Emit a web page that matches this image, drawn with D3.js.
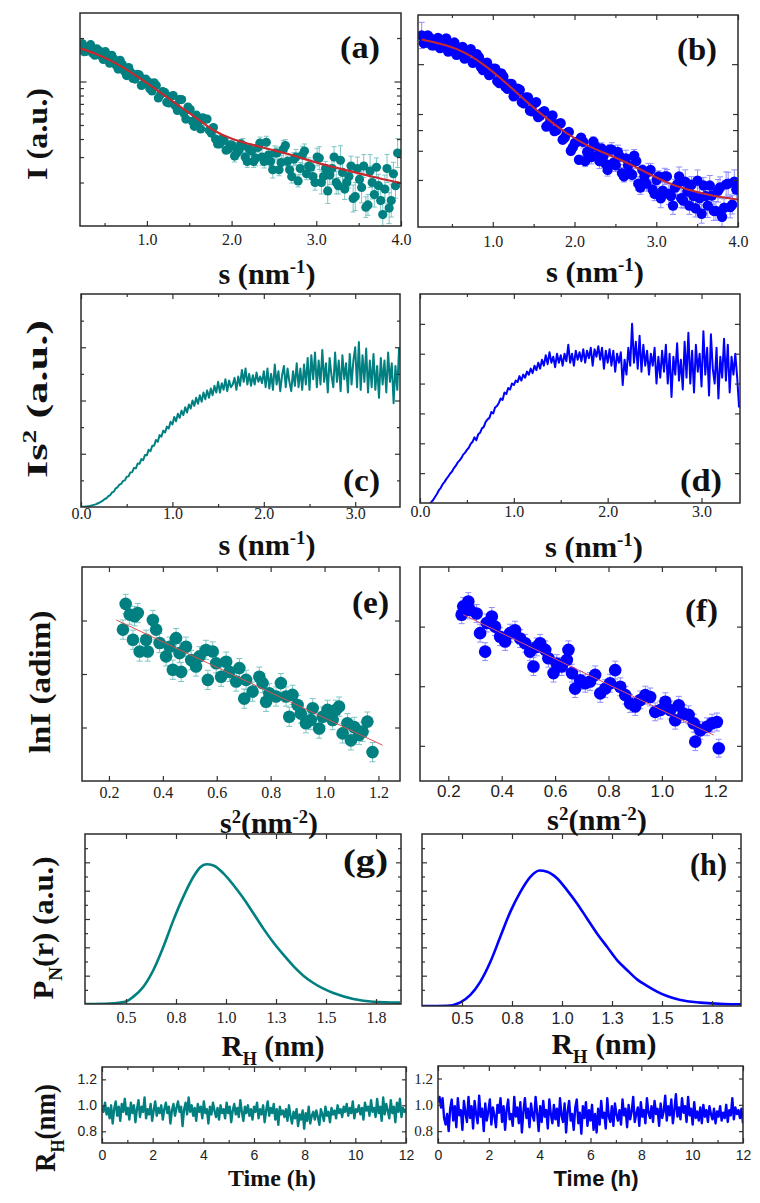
<!DOCTYPE html>
<html>
<head>
<meta charset="utf-8">
<script src="https://cdn.jsdelivr.net/npm/d3@7"></script>
<style>
  body { margin: 0; background: #fff; }
  svg { display: block; }
</style>
</head>
<body>
<svg width="760" height="1203"></svg>
<script>
// ---------- data ----------
// (a) I(s), teal sample, log axis (two interleaved runs of points)
const sA = [0.21,0.26,0.31,0.36,0.41,0.46,0.51,0.56,0.61,0.66,0.71,0.76,0.81,0.86,0.91,0.96,1.01,1.06,1.11,1.16,1.21,1.26,1.31,1.36,1.41,1.46,1.51,1.56,1.61,1.66,1.71,1.76,1.81,1.86,1.91,1.96,2.01,2.06,2.11,2.16,2.21,2.26,2.31,2.36,2.41,2.46,2.51,2.56,2.61,2.66,2.71,2.76,2.81,2.86,2.91,2.96,3.01,3.06,3.11,3.16,3.21,3.26,3.31,3.36,3.41,3.46,3.51,3.56,3.61,3.66,3.71,3.76,3.81,3.86,3.91,3.96];
const IA = [17.5,16.1,17.4,15.7,16.8,15.1,16.1,13.4,14.3,12.2,13.1,11.0,11.6,10.4,11.1,9.6,10.0,8.6,9.4,8.1,8.4,7.1,8.0,6.3,7.5,5.5,6.4,4.9,5.3,5.6,5.5,4.4,4.0,3.7,3.9,3.4,3.6,3.2,3.7,3.0,3.4,2.8,3.5,3.0,3.8,2.8,3.2,2.45,3.4,2.8,2.2,3.0,2.5,3.3,2.6,2.2,3.0,2.0,2.5,2.25,3.0,1.9,2.35,2.0,2.6,1.6,2.1,2.6,1.4,2.0,2.55,1.5,1.8,1.33,2.3,3.2];
const errA = [0.03,0.03,0.03,0.03,0.03,0.03,0.03,0.03,0.03,0.03,0.03,0.03,0.03,0.03,0.03,0.03,0.03,0.03,0.03,0.03,
  0.05,0.05,0.05,0.05,0.05,0.05,0.05,0.05,0.05,0.05,0.05,0.05,0.05,0.05,0.05,0.05,
  0.08,0.1,0.07,0.12,0.09,0.1,0.08,0.14,0.1,0.09,0.12,0.1,0.15,0.09,0.11,0.13,0.1,0.12,0.14,0.1,
  0.15,0.2,0.12,0.16,0.18,0.14,0.22,0.15,0.17,0.25,0.14,0.2,0.18,0.3,0.16,0.22,0.25,0.28,0.2,0.26];
const sA2 = [0.235,0.285,0.335,0.385,0.435,0.485,0.535,0.585,0.635,0.685,0.735,0.785,0.835,0.885,0.935,0.985,1.035,1.085,1.135,1.185,1.235,1.285,1.335,1.385,1.435,1.485,1.535,1.585,1.635,1.685,1.735,1.785,1.835,1.885,1.935,1.985,2.035,2.085,2.135,2.185,2.235,2.285,2.335,2.385,2.435,2.485,2.535,2.585,2.635,2.685,2.735,2.785,2.835,2.885,2.935,2.985,3.035,3.085,3.135,3.185,3.235,3.285,3.335,3.385,3.435,3.485,3.535,3.585,3.635,3.685,3.735,3.785,3.835,3.885,3.935];
const IA2 = [18.3,16.2,18.0,15.2,16.3,14.2,14.8,15.2,13.0,14.0,11.8,12.5,10.5,11.2,9.4,10.4,8.9,9.8,7.7,8.5,7.2,7.9,6.8,7.5,6.05,6.65,5.3,5.85,4.7,5.5,4.6,4.8,3.7,4.0,3.35,3.65,3.05,3.35,3.6,2.8,3.3,2.95,3.75,2.8,3.1,2.45,3.2,2.75,3.6,2.45,2.9,2.05,3.1,2.3,2.55,2.0,2.95,2.2,1.75,2.5,2.0,2.85,1.8,2.2,1.55,2.5,1.85,1.35,2.4,1.65,1.9,1.2,2.5,1.5,1.9];
const errA2 = [0.03,0.03,0.03,0.03,0.03,0.03,0.03,0.03,0.03,0.03,0.03,0.03,0.03,0.03,0.03,0.03,0.03,0.03,0.03,0.03,
  0.05,0.05,0.05,0.05,0.05,0.05,0.05,0.05,0.05,0.05,0.05,0.05,0.05,0.05,0.05,0.05,
  0.1,0.08,0.12,0.1,0.09,0.13,0.1,0.11,0.09,0.14,0.1,0.12,0.1,0.13,0.11,0.1,0.15,0.1,0.12,0.13,
  0.2,0.16,0.22,0.18,0.2,0.26,0.18,0.2,0.24,0.2,0.28,0.18,0.3,0.22,0.2,0.32,0.25,0.3,0.22];
const fitSA = [0.21,0.45,0.68,0.92,1.15,1.39,1.62,1.78,2.01,2.25,2.48,2.72,2.95,3.19,3.42,3.66,4.0];
const fitIA = [17.0,15.2,13.0,10.5,8.49,6.70,5.42,4.55,3.96,3.64,3.36,3.10,2.79,2.57,2.38,2.19,1.98];

// (b) I(s), blue sample
const sB = [0.13,0.18,0.23,0.28,0.33,0.38,0.43,0.48,0.53,0.58,0.63,0.68,0.73,0.78,0.83,0.88,0.93,0.98,1.03,1.08,1.13,1.18,1.23,1.28,1.33,1.38,1.43,1.48,1.53,1.58,1.63,1.68,1.73,1.78,1.83,1.88,1.93,1.98,2.03,2.08,2.13,2.18,2.23,2.28,2.33,2.38,2.43,2.48,2.53,2.58,2.63,2.68,2.73,2.78,2.83,2.88,2.93,2.98,3.03,3.08,3.13,3.18,3.23,3.28,3.33,3.38,3.43,3.48,3.53,3.58,3.63,3.68,3.73,3.78,3.83,3.88,3.93,3.98];
const IB = [14.9,13.5,14.4,13.0,14.4,13.1,14.3,12.4,13.5,11.5,12.7,11.4,12.3,10.3,11.0,9.2,10.2,8.8,9.4,7.7,8.4,7.1,7.6,6.6,7.0,5.8,6.3,5.2,5.9,4.9,5.2,4.3,4.9,4.0,4.4,3.6,3.9,3.15,3.4,3.6,2.6,3.0,3.4,2.8,3.1,2.5,3.05,2.55,2.95,2.2,2.7,2.2,2.8,1.9,2.3,1.9,2.3,1.65,2.1,1.72,2.1,1.6,1.8,2.1,1.5,1.7,1.87,1.35,1.55,1.85,1.4,1.61,1.3,1.8,1.36,1.9,1.42,1.75];
const errB = [0.2,0.03,0.03,0.03,0.03,0.03,0.03,0.03,0.03,0.03,0.03,0.03,0.03,0.03,0.03,0.03,0.03,0.03,0.03,0.03,
  0.05,0.05,0.05,0.05,0.05,0.05,0.05,0.05,0.05,0.05,0.05,0.05,0.05,0.05,0.05,0.05,0.05,0.05,0.05,0.05,
  0.08,0.1,0.07,0.09,0.08,0.11,0.07,0.09,0.1,0.08,0.12,0.08,0.09,0.1,0.07,0.11,0.09,0.1,0.08,
  0.13,0.1,0.15,0.12,0.14,0.11,0.16,0.12,0.13,0.15,0.12,0.18,0.13,0.14,0.16,0.13,0.17,0.14,0.15];
const sB2 = [0.155,0.205,0.255,0.305,0.355,0.405,0.455,0.505,0.555,0.605,0.655,0.705,0.755,0.805,0.855,0.905,0.955,1.005,1.055,1.105,1.155,1.205,1.255,1.305,1.355,1.405,1.455,1.505,1.555,1.605,1.655,1.705,1.755,1.805,1.855,1.905,1.955,2.005,2.055,2.105,2.155,2.205,2.255,2.305,2.355,2.405,2.455,2.505,2.555,2.605,2.655,2.705,2.755,2.805,2.855,2.905,2.955,3.005,3.055,3.105,3.155,3.205,3.255,3.305,3.355,3.405,3.455,3.505,3.555,3.605,3.655,3.705,3.755,3.805,3.855,3.905,3.955];
const IB2 = [13.4,14.9,13.0,13.9,12.5,13.8,11.9,12.9,11.4,12.5,10.8,12.0,10.2,11.5,9.6,10.15,8.6,9.4,7.9,8.8,7.3,7.6,6.4,7.1,5.9,6.3,5.25,5.8,4.8,5.1,4.2,4.6,3.95,4.35,3.5,3.82,3.0,3.35,2.65,3.4,2.95,2.75,3.2,2.6,2.8,2.3,3.05,2.45,2.77,2.1,2.45,2.15,2.6,1.8,2.1,2.25,1.75,2.0,1.55,2.1,1.65,1.4,1.88,1.55,1.95,1.4,1.6,1.98,1.25,1.6,1.85,1.3,1.72,1.2,1.88,1.37,1.95];
const errB2 = [0.03,0.03,0.03,0.03,0.03,0.03,0.03,0.03,0.03,0.03,0.03,0.03,0.03,0.03,0.03,0.03,0.03,0.03,0.03,
  0.05,0.05,0.05,0.05,0.05,0.05,0.05,0.05,0.05,0.05,0.05,0.05,0.05,0.05,0.05,0.05,0.05,0.05,0.05,0.05,
  0.09,0.08,0.1,0.09,0.11,0.08,0.09,0.1,0.09,0.12,0.08,0.1,0.09,0.11,0.1,0.09,0.12,0.1,0.09,
  0.14,0.12,0.16,0.13,0.15,0.14,0.18,0.13,0.15,0.16,0.14,0.2,0.15,0.14,0.17,0.15,0.19,0.16,0.18];
const fitSB = [0.131,0.437,0.682,0.927,1.171,1.416,1.661,1.906,2.151,2.396,2.641,2.886,3.131,3.375,3.62,4.0];
const fitIB = [14.07,13.1,11.7,9.67,7.65,5.91,4.69,3.80,3.22,2.87,2.55,2.21,1.92,1.75,1.63,1.52];

// (c) Kratky teal, s sampled every 0.02 from 0
const cS0 = 0, cStep = 0.02;
const kratkyC = [0,0.01,0.01,0.02,0.03,0.04,0.06,0.08,0.1,0.13,0.16,0.2,0.24,0.3,0.33,0.41,0.45,0.55,0.58,0.7,0.74,0.84,0.87,0.98,1.0,
  1.14,1.15,1.3,1.31,1.47,1.45,1.63,1.62,1.8,1.76,1.95,1.94,2.15,2.1,2.3,2.3,2.52,2.45,2.7,2.64,2.87,2.8,3.02,2.95,3.2,
  3.1,3.38,3.22,3.5,3.35,3.62,3.45,3.75,3.55,3.85,3.7,4.0,3.8,4.1,3.88,4.2,3.95,4.3,4.05,4.38,4.1,4.45,4.2,4.55,4.3,
  4.7,4.3,4.65,4.4,4.8,4.35,4.75,4.5,4.6,4.85,4.4,4.9,4.55,5.15,4.7,5.2,4.6,5.0,4.55,4.95,4.6,5.05,4.7,4.9,4.65,
  5.1,4.5,5.2,4.45,5.0,4.4,5.35,4.6,5.1,4.35,4.95,5.3,4.5,5.2,4.7,4.35,5.1,4.55,5.4,4.5,5.2,4.4,5.35,4.6,5.6,
  4.4,5.7,4.8,5.8,4.5,5.5,4.6,5.9,4.7,5.4,4.3,5.6,4.95,4.5,5.8,4.7,5.5,4.35,5.7,4.8,5.4,4.3,5.75,4.6,5.5,
  6.0,4.5,6.2,4.4,5.7,4.7,5.95,4.3,5.5,4.5,5.75,4.4,5.3,4.1,5.6,4.6,5.5,4.3,5.8,4.7,5.4,3.9,5.3,4.4,6.0];

// (d) Kratky blue, s sampled every 0.02 from 0.06
const dS0 = 0.06, dStep = 0.02;
const kratkyD = [-0.15,-0.12,-0.05,0.03,0.1,0.2,0.3,0.42,0.5,0.62,0.7,0.8,0.88,0.98,1.05,1.16,1.24,1.35,1.42,1.5,1.62,1.68,1.78,1.85,1.98,
  2.05,2.2,2.1,2.3,2.35,2.5,2.55,2.72,2.8,2.85,3.05,3.0,3.2,3.25,3.35,3.5,3.45,3.7,3.65,3.85,3.8,4.0,3.95,4.1,4.05,
  4.25,4.1,4.3,4.2,4.4,4.3,4.5,4.35,4.6,4.45,4.7,4.5,4.8,4.6,4.95,4.65,5.05,4.7,4.9,4.55,5.0,4.7,4.95,4.6,5.0,
  4.75,5.3,4.7,5.0,4.6,5.1,4.8,5.05,4.75,5.15,4.7,5.1,4.85,5.2,4.6,5.15,4.9,5.25,4.8,5.2,4.5,5.1,4.7,5.15,4.6,
  5.1,4.4,5.0,4.7,5.05,3.95,4.8,4.3,5.2,4.6,6.0,4.7,5.4,4.5,5.6,4.4,5.3,4.6,5.1,4.3,5.0,4.6,5.2,4.0,4.9,
  4.2,5.1,4.4,5.3,4.0,5.0,3.55,4.9,4.3,5.35,4.1,4.8,3.8,5.4,4.2,5.7,4.0,5.1,3.7,5.3,4.4,5.0,3.9,5.75,4.3,
  5.2,3.6,5.65,4.5,4.0,5.2,3.5,4.9,4.2,5.5,4.1,5.3,3.7,4.9,4.3,5.0,4.2,3.2];

// (e) Guinier teal
const s2E = [0.262,0.252,0.277,0.295,0.307,0.289,0.314,0.338,0.344,0.363,0.375,0.388,0.412,0.425,0.437,0.449,0.468,0.462,0.486,0.505,0.523,0.536,0.560,0.567,0.585,0.598,0.616,0.635,0.647,0.672,0.684,0.702,0.709,0.733,0.758,0.770,0.783,0.795,0.820,0.838,0.857,0.869,0.881,0.900,0.912,0.931,0.949,0.956,0.980,0.993,1.011,1.030,1.042,1.054,1.067,1.085,1.098,1.110,1.128,1.141,1.159,1.178];
const lnIE = [3.31,2.83,3.11,3.08,3.14,2.64,2.42,2.64,2.42,3.01,2.83,2.58,2.33,2.51,2.08,2.67,2.04,2.39,2.51,2.26,2.14,2.33,2.45,1.89,2.42,2.20,1.95,2.23,2.04,1.86,2.11,1.54,1.89,1.67,1.95,1.83,1.48,1.64,1.58,1.83,1.58,1.20,1.61,1.42,1.26,1.08,1.14,1.36,0.98,1.20,1.33,1.14,1.33,1.39,0.89,1.08,0.76,1.01,0.86,0.92,1.11,0.54];
const errE = 0.18;
const fitS2E = [0.227, 1.215], fitLnE = [3.01, 0.67];

// (f) Guinier blue
const s2F = [0.256,0.275,0.250,0.281,0.306,0.319,0.338,0.344,0.363,0.375,0.394,0.413,0.431,0.450,0.469,0.488,0.506,0.519,0.531,0.544,0.563,0.575,0.594,0.606,0.625,0.644,0.650,0.663,0.675,0.694,0.713,0.731,0.750,0.769,0.788,0.806,0.825,0.844,0.863,0.881,0.900,0.919,0.938,0.956,0.975,0.994,1.013,1.031,1.050,1.063,1.081,1.100,1.119,1.125,1.144,1.169,1.188,1.206,1.213];
const lnIF = [3.34,3.42,3.20,3.28,3.22,2.89,2.58,3.06,3.17,3.00,2.83,2.75,2.89,2.94,2.80,2.72,2.58,2.33,2.66,2.72,2.61,2.47,2.22,2.38,2.33,2.44,2.61,2.22,1.96,2.10,2.05,2.08,2.19,1.88,1.96,2.05,2.27,1.99,1.85,1.71,1.66,1.77,1.85,1.82,1.57,1.60,1.74,1.60,1.43,1.68,1.54,1.52,1.38,1.07,1.26,1.32,1.38,1.40,0.96];
const errF = 0.15;
const fitS2F = [0.256, 1.194], fitLnF = [3.20, 1.18];

// (g), (h) size distributions
const rG = [0.295,0.42,0.495,0.537,0.587,0.637,0.687,0.737,0.787,0.837,0.870,0.903,0.937,0.987,1.037,1.087,1.137,1.187,1.237,1.287,1.337,1.387,1.437,1.487,1.537,1.637,1.737,1.87];
const pG = [0,0.02,0.08,0.26,0.61,1.20,2.02,2.96,3.79,4.49,4.82,4.93,4.89,4.61,4.20,3.73,3.20,2.66,2.17,1.74,1.34,1.0,0.74,0.54,0.39,0.18,0.08,0.05];
const rH = [0.30,0.425,0.492,0.542,0.592,0.642,0.692,0.742,0.792,0.842,0.888,0.925,0.975,1.025,1.075,1.125,1.175,1.225,1.275,1.325,1.375,1.425,1.475,1.525,1.592,1.692,1.808,1.895];
const pH = [-0.07,-0.06,0.06,0.32,0.79,1.49,2.38,3.26,3.96,4.49,4.71,4.67,4.44,4.02,3.55,3.02,2.49,2.02,1.55,1.20,0.87,0.64,0.44,0.28,0.14,0.05,0,-0.01];
const rLabels = ["0.5","0.8","1.0","1.3","1.5","1.8"];

// bottom: R_H over time, sampled every 0.06 h
const tStep = 0.06;
const rhTeal = [0.99,0.95,1.02,0.93,0.98,0.90,1.00,0.86,0.97,1.03,0.92,0.99,0.88,1.01,0.95,1.05,0.93,0.98,0.89,1.02,
  0.94,1.00,0.87,0.97,1.04,0.91,0.99,0.95,1.06,0.90,0.97,0.93,1.01,0.88,0.96,1.03,0.92,0.98,0.94,1.00,
  0.89,0.97,1.02,0.94,0.99,0.86,0.96,1.01,0.92,0.98,1.03,0.95,0.99,0.84,0.97,1.02,0.93,1.06,0.95,1.00,
  0.92,0.98,0.88,1.01,0.95,0.99,0.90,1.03,0.94,0.97,0.86,0.99,0.93,1.02,0.96,0.91,0.98,0.89,1.00,0.94,
  0.97,0.90,1.02,0.94,0.99,0.87,0.96,1.01,0.93,0.98,0.91,1.04,0.95,0.88,0.99,0.94,1.00,0.92,0.97,0.89,
  0.99,0.95,1.02,0.90,0.97,0.93,1.00,0.87,0.96,1.03,0.92,0.98,0.94,1.01,0.89,0.97,0.85,0.99,0.93,0.96,
  0.91,0.97,0.88,1.00,0.92,0.86,0.95,0.90,0.97,0.84,0.93,0.89,0.96,0.82,0.94,0.88,0.99,0.86,0.92,0.95,
  0.89,0.96,0.91,0.85,0.97,0.93,0.88,0.99,0.92,0.95,0.87,0.98,0.93,0.96,0.90,1.00,0.94,0.97,0.91,0.99,
  0.95,1.01,0.92,0.98,0.94,1.03,0.90,0.97,0.95,1.00,0.93,0.98,0.89,1.02,0.96,0.99,0.92,1.04,0.95,0.98,
  0.91,1.05,0.94,0.99,0.88,1.06,0.93,1.01,0.96,0.90,1.04,0.94,0.99,0.87,1.02,0.95,1.05,0.91,0.98,0.95,0.97];
const rhBlue = [1.02,1.06,0.98,1.05,0.90,0.85,0.93,0.80,0.97,1.04,0.88,0.99,0.83,1.05,0.92,0.96,0.81,1.03,0.94,0.87,
  1.06,0.90,0.99,0.82,1.03,0.93,0.86,1.07,0.91,0.97,0.80,1.01,0.88,0.95,1.04,0.85,0.98,0.92,0.83,1.00,
  0.94,1.05,0.87,0.99,0.81,0.96,1.04,0.89,0.93,0.84,1.06,0.91,0.98,0.86,1.02,0.79,0.95,1.05,0.90,0.97,
  0.83,1.01,0.92,0.88,1.06,0.94,0.80,0.99,0.87,1.03,0.91,0.96,0.82,1.04,0.93,0.86,1.00,0.89,0.97,0.84,
  1.05,0.92,0.87,1.01,0.79,0.95,1.03,0.88,0.93,0.81,0.98,1.04,0.86,0.94,0.78,0.99,0.90,1.02,0.84,0.96,
  0.88,1.00,0.81,0.93,0.79,0.97,0.85,1.03,0.90,0.94,0.82,1.05,0.91,0.87,0.99,0.84,1.01,0.93,0.88,0.96,
  0.85,1.04,0.92,0.97,0.83,1.00,0.89,0.95,1.06,0.87,0.93,0.98,0.84,1.02,0.91,0.96,0.86,1.05,0.94,0.90,
  0.99,0.87,1.03,0.93,0.97,0.84,1.01,0.90,0.95,1.07,0.88,0.99,0.92,1.04,0.86,0.96,1.08,0.91,0.98,0.89,
  1.05,0.94,0.99,0.87,1.06,0.92,0.97,0.85,1.02,0.90,0.95,0.88,0.98,0.86,1.00,0.91,0.96,0.87,0.99,0.93,
  0.89,0.97,0.86,0.95,0.91,0.99,0.88,0.94,0.90,1.00,0.87,0.96,0.92,1.05,0.89,0.98,0.93,0.96,0.90,0.97,0.86];

// ---------- drawing ----------
const teal = "#008080", blue = "#0000ff", red = "#c62a2f";
const tealErr = "#7fc5c5", blueErr = "#8f8fff";
const serif = "'Liberation Serif','Times New Roman',serif";
const sans = "'Liberation Sans',Arial,sans-serif";
const svg = d3.select("svg");
const defs = svg.append("defs");

// one framed panel with inward ticks on all four sides
function panel(o) {
  const x = d3.scaleLinear().domain(o.xDom).range([o.x0, o.x1]);
  const y = (o.log ? d3.scaleLog() : d3.scaleLinear()).domain(o.yDom).range([o.y1, o.y0]);
  const g = svg.append("g");
  defs.append("clipPath").attr("id", "clip-" + o.id)
    .append("rect").attr("x", o.x0).attr("y", o.y0)
    .attr("width", o.x1 - o.x0).attr("height", o.y1 - o.y0);
  const plot = g.append("g").attr("clip-path", `url(#clip-${o.id})`);

  const axes = g.append("g").attr("color", "#333");
  const L = 5, l = 3;
  const none = () => "";

  const bottom = axes.append("g").attr("transform", `translate(0,${o.y1})`)
    .call(d3.axisBottom(x).tickValues(o.xMajor).tickSize(-L).tickPadding(o.xPad).tickFormat(o.xFmt));
  bottom.selectAll("text").attr("font-family", o.xFont).attr("font-size", o.xSize).attr("fill", "#222");
  if (o.xMinor) axes.append("g").attr("transform", `translate(0,${o.y1})`)
    .call(d3.axisBottom(x).tickValues(o.xMinor).tickSize(-l).tickFormat(none));
  if (o.top !== false) {
    axes.append("g").attr("transform", `translate(0,${o.y0})`)
      .call(d3.axisTop(x).tickValues(o.xMajor).tickSize(-L).tickFormat(none));
    if (o.xMinor) axes.append("g").attr("transform", `translate(0,${o.y0})`)
      .call(d3.axisTop(x).tickValues(o.xMinor).tickSize(-l).tickFormat(none));
  }

  const left = axes.append("g").attr("transform", `translate(${o.x0},0)`)
    .call(d3.axisLeft(y).tickValues(o.yMajor).tickSize(-(o.yTick || L)).tickPadding(o.yPad || 4).tickFormat(o.yFmt || none));
  left.selectAll("text").attr("font-family", o.yFont || serif).attr("font-size", o.ySize || 14).attr("fill", "#222");
  axes.append("g").attr("transform", `translate(${o.x1},0)`)
    .call(d3.axisRight(y).tickValues(o.yMajor).tickSize(-(o.yTick || L)).tickFormat(none));
  if (o.yMinor) {
    axes.append("g").attr("transform", `translate(${o.x0},0)`)
      .call(d3.axisLeft(y).tickValues(o.yMinor).tickSize(-(o.yTickMinor || l)).tickFormat(none));
    axes.append("g").attr("transform", `translate(${o.x1},0)`)
      .call(d3.axisRight(y).tickValues(o.yMinor).tickSize(-(o.yTickMinor || l)).tickFormat(none));
  }
  axes.selectAll(".domain").remove();
  axes.selectAll("line").attr("stroke-width", 1.2);

  g.append("rect").attr("x", o.x0).attr("y", o.y0)
    .attr("width", o.x1 - o.x0).attr("height", o.y1 - o.y0)
    .attr("fill", "none").attr("stroke", "#2b2b2b").attr("stroke-width", 1.5);
  return { g, plot, x, y };
}

// bold title with optional super/subscripts
function title(parts, o) {
  const t = svg.append("text")
    .attr("font-family", o.font || serif).attr("font-weight", "bold")
    .attr("font-size", o.size).attr("text-anchor", o.anchor || "middle")
    .attr("fill", "#111").style("white-space", "pre")
    .attr("transform", `translate(${o.x},${o.y})` + (o.rot ? " rotate(-90)" : ""));
  let shift = 0;
  parts.forEach(p => {
    const target = p.sup ? -(o.supUp || 0.38) * o.size : p.sub ? 0.3 * o.size : 0;
    t.append("tspan").text(p.t)
      .attr("font-size", (p.sup || p.sub) ? o.size * 0.62 : o.size)
      .attr("dy", target - shift);
    shift = target;
  });
  if (o.len) t.attr("textLength", o.len).attr("lengthAdjust", "spacingAndGlyphs");
  return t;
}

function errorBars(p, pts, logErr, ecolor, cap) {
  const lo = d => logErr ? d.y / (1 + d.e) : d.y - d.e;
  const hi = d => logErr ? d.y * (1 + d.e) : d.y + d.e;
  const eb = p.plot.append("g").attr("stroke", ecolor).attr("stroke-width", 1);
  eb.selectAll(".v").data(pts).join("line").attr("class", "v")
    .attr("x1", d => p.x(d.x)).attr("x2", d => p.x(d.x))
    .attr("y1", d => p.y(lo(d))).attr("y2", d => p.y(hi(d)));
  eb.selectAll(".ct").data(pts).join("line").attr("class", "ct")
    .attr("x1", d => p.x(d.x) - cap).attr("x2", d => p.x(d.x) + cap)
    .attr("y1", d => p.y(hi(d))).attr("y2", d => p.y(hi(d)));
  eb.selectAll(".cb").data(pts).join("line").attr("class", "cb")
    .attr("x1", d => p.x(d.x) - cap).attr("x2", d => p.x(d.x) + cap)
    .attr("y1", d => p.y(lo(d))).attr("y2", d => p.y(lo(d)));
}

// several runs of points share one error-bar layer below one dot layer
function scatter(p, runs, logErr, color, ecolor, r, cap) {
  const pts = runs.flatMap(([xs, ys, err]) =>
    xs.map((v, i) => ({ x: v, y: ys[i], e: Array.isArray(err) ? err[i] : err })));
  errorBars(p, pts, logErr, ecolor, cap);
  p.plot.append("g").selectAll("circle").data(pts).join("circle")
    .attr("cx", d => p.x(d.x)).attr("cy", d => p.y(d.y)).attr("r", r)
    .attr("fill", color);
}

function curve(p, xs, ys, color, width, c) {
  const line = d3.line().x(d => p.x(d[0])).y(d => p.y(d[1])).curve(c || d3.curveLinear);
  p.plot.append("path").datum(xs.map((v, i) => [v, ys[i]]))
    .attr("d", line).attr("fill", "none").attr("stroke", color)
    .attr("stroke-width", width).attr("stroke-linejoin", "round");
}

const f1 = d3.format(".1f");

// ----- (a) -----
const pa = panel({ id: "a", x0: 80, x1: 401, y0: 13, y1: 226, top: false,
  xDom: [0.21, 4.0], yDom: [1, 29.8], log: true,
  xMajor: [1, 2, 3, 4], xMinor: [0.5, 1.5, 2.5, 3.5], xFmt: f1, xPad: 8, xFont: serif, xSize: 16,
  yMajor: [10], yMinor: [2, 3, 4, 5, 6, 7, 8, 9, 20], yTick: 6.5, yTickMinor: 4 });
scatter(pa, [[sA, IA, errA], [sA2, IA2, errA2]], true, teal, tealErr, 4.6, 2.5);
curve(pa, fitSA, fitIA, red, 2.2, d3.curveBasis);

// ----- (b) -----
const pb = panel({ id: "b", x0: 418, x1: 738, y0: 15, y1: 227,
  xDom: [0.085, 4.0], yDom: [1.04, 19.8], log: true,
  xMajor: [1, 2, 3, 4], xMinor: [0.5, 1.5, 2.5, 3.5], xFmt: f1, xPad: 9, xFont: serif, xSize: 16,
  yMajor: [10], yMinor: [2, 3, 4, 5], yTick: 6, yTickMinor: 5 });
scatter(pb, [[sB, IB, errB], [sB2, IB2, errB2]], true, blue, blueErr, 5.2, 3);
curve(pb, fitSB, fitIB, red, 2, d3.curveBasis);

// ----- (c) -----
const pc = panel({ id: "c", x0: 81, x1: 400, y0: 294, y1: 507,
  xDom: [0, 3.49], yDom: [0, 8],
  xMajor: [0, 1, 2, 3], xMinor: [0.5, 1.5, 2.5], xFmt: f1, xPad: 1, xFont: serif, xSize: 16,
  yMajor: [2, 4, 6], yMinor: [1, 3, 5, 7] });
curve(pc, kratkyC.map((v, i) => cS0 + i * cStep), kratkyC, teal, 2);

// ----- (d) -----
const pd = panel({ id: "d", x0: 420, x1: 740, y0: 294, y1: 503,
  xDom: [0, 3.41], yDom: [0, 7],
  xMajor: [0, 1, 2, 3], xMinor: [0.5, 1.5, 2.5], xFmt: f1, xPad: 3, xFont: serif, xSize: 16,
  yMajor: [1, 2, 3, 4, 5, 6] });
curve(pd, kratkyD.map((v, i) => dS0 + i * dStep), kratkyD, blue, 2);

// ----- (e) -----
const pe = panel({ id: "e", x0: 82, x1: 400, y0: 567, y1: 781,
  xDom: [0.1, 1.28], yDom: [0, 4],
  xMajor: [0.2, 0.4, 0.6, 0.8, 1.0, 1.2], xFmt: f1, xPad: 6, xFont: serif, xSize: 16,
  yMajor: [1, 2, 3] });
scatter(pe, [[s2E, lnIE, errE]], false, teal, tealErr, 6.3, 3);
curve(pe, fitS2E, fitLnE, "#d9534f", 1);

// ----- (f) -----
const pf = panel({ id: "f", x0: 420, x1: 742, y0: 567, y1: 781,
  xDom: [0.094, 1.30], yDom: [0.41, 4.0],
  xMajor: [0.2, 0.4, 0.6, 0.8, 1.0, 1.2], xFmt: f1, xPad: 4, xFont: sans, xSize: 17,
  yMajor: [1, 2, 3] });
scatter(pf, [[s2F, lnIF, errF]], false, blue, blueErr, 6.3, 3);
curve(pf, fitS2F, fitLnF, "#e0506a", 1);

// ----- (g) -----
const rTicks = [0.5, 0.75, 1.0, 1.25, 1.5, 1.75];
const pg = panel({ id: "g", x0: 85, x1: 401, y0: 834, y1: 1004,
  xDom: [0.295, 1.875], yDom: [0, 6],
  xMajor: rTicks, xFmt: (d, i) => rLabels[i], xPad: 8, xFont: serif, xSize: 16,
  yMajor: [1, 2, 3, 4, 5], yMinor: [0.5, 1.5, 2.5, 3.5, 4.5, 5.5] });
curve(pg, rG, pG, teal, 2.6, d3.curveMonotoneX);

// ----- (h) -----
const ph = panel({ id: "h", x0: 422, x1: 741, y0: 834, y1: 1006,
  xDom: [0.30, 1.895], yDom: [-0.07, 6],
  xMajor: rTicks, xFmt: (d, i) => rLabels[i], xPad: 7, xFont: sans, xSize: 16,
  yMajor: [1, 2, 3, 4, 5], yMinor: [0.5, 1.5, 2.5, 3.5, 4.5, 5.5] });
curve(ph, rH, pH, blue, 2.6, d3.curveMonotoneX);

// ----- R_H vs time -----
const hours = [0, 2, 4, 6, 8, 10, 12], oddHours = [1, 3, 5, 7, 9, 11];
const p1 = panel({ id: "t1", x0: 102, x1: 406, y0: 1067, y1: 1143,
  xDom: [0, 12], yDom: [0.71, 1.295],
  xMajor: hours, xMinor: oddHours, xFmt: d3.format("d"), xPad: 7, xFont: sans, xSize: 14,
  yMajor: [0.8, 1.0, 1.2], yFmt: f1, yPad: 5, yFont: sans, ySize: 14, yTick: 4 });
curve(p1, rhTeal.map((v, i) => i * tStep), rhTeal, teal, 2.4);

const p2 = panel({ id: "t2", x0: 438, x1: 743, y0: 1066, y1: 1143,
  xDom: [0, 12], yDom: [0.71, 1.295],
  xMajor: hours, xMinor: oddHours, xFmt: d3.format("d"), xPad: 7, xFont: sans, xSize: 14,
  yMajor: [0.8, 1.0, 1.2], yFmt: f1, yPad: 5, yFont: serif, ySize: 15, yTick: 4 });
curve(p2, rhBlue.map((v, i) => i * tStep), rhBlue, blue, 2.4);

// ----- axis titles -----
const sTitle = [{ t: "s (nm" }, { t: "-1", sup: true }, { t: ")" }];
const s2Title = [{ t: "s" }, { t: "2", sup: true }, { t: "(nm" }, { t: "-2", sup: true }, { t: ")" }];
const rTitle = [{ t: "R" }, { t: "H", sub: true }, { t: " (nm)" }];

title([{ t: "I (a.u.)" }], { x: 47, y: 134, size: 30, rot: true, len: 92 });
title([{ t: "Is" }, { t: "2", sup: true }, { t: " (a.u.)" }], { x: 47, y: 399, size: 30, rot: true, len: 158 });
title([{ t: "lnI (adim)" }], { x: 50, y: 682, size: 30, rot: true, len: 143 });
title([{ t: "P" }, { t: "N", sub: true }, { t: "(r) (a.u.)" }], { x: 53, y: 928, size: 30, rot: true, len: 143 });
title([{ t: "R" }, { t: "H", sub: true }, { t: "(nm)" }], { x: 55, y: 1128, size: 30, rot: true, len: 88 });

title(sTitle, { x: 267, y: 284, size: 30, len: 97 });
title(sTitle, { x: 595, y: 282, size: 30, len: 98 });
title(sTitle, { x: 267, y: 555, size: 30, len: 97 });
title(sTitle, { x: 594, y: 557, size: 30, len: 98 });
title(s2Title, { x: 269, y: 833, size: 30, len: 98, supUp: 0.34 });
title(s2Title, { x: 597, y: 830, size: 30, len: 100, supUp: 0.34 });
title(rTitle, { x: 273, y: 1056, size: 30, len: 103 });
title(rTitle, { x: 604, y: 1054, size: 30, len: 105 });
title([{ t: "Time (h)" }], { x: 272, y: 1186, size: 24, len: 88 });
title([{ t: "Time (h)" }], { x: 596, y: 1186, size: 22, font: sans, len: 85 });

// ----- panel letters -----
const letters = [["(a)", 340, 58, 40], ["(b)", 677, 60, 40], ["(c)", 343, 491, 37], ["(d)", 680, 491, 42],
  ["(e)", 352, 613, 37], ["(f)", 685, 621, 33], ["(g)", 343, 871, 45], ["(h)", 690, 875, 37]];
letters.forEach(([t, x, y, w]) =>
  title([{ t }], { x, y, size: 31, anchor: "start", len: w }));
</script>
</body>
</html>
